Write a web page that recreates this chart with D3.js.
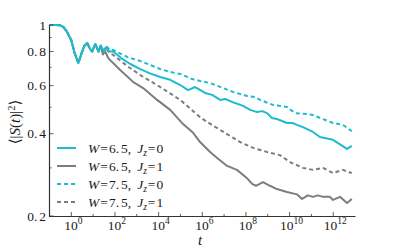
<!doctype html>
<html lang="en">
<head>
  <meta charset="utf-8">
  <script src="https://d3js.org/d3.v7.min.js"></script>
  <style>
    body { margin: 0; background: #fff; }
  </style>
</head>
<body>
  <div id="chart"></div>
  <script>
    // shared early part (log10 t, value) -- all four curves overlap here
    var earlyExp = [-1.0, -0.7, -0.5, -0.37, -0.2, 0, 0.15, 0.32, 0.45, 0.6, 0.73, 0.85, 0.95, 1.1, 1.25, 1.35];
    var earlyVal = [1.0, 1.0, 0.997, 0.985, 0.945, 0.88, 0.79, 0.726, 0.78, 0.84, 0.86, 0.82, 0.80, 0.85, 0.80, 0.84];

    // W=6.5, Jz=0
    var c65Exp = [1.5, 1.6, 1.75, 1.92, 2.3, 2.7, 3.16, 3.6, 4.07, 4.53, 4.99, 5.35, 5.67, 6.13, 6.45, 6.82, 7.05, 7.5, 7.87,
      8.19, 8.51, 8.74, 8.97, 9.19, 9.42, 9.88, 10.11, 10.25, 10.61, 11.07, 11.39, 11.99, 12.63, 12.85];
    var c65Val = [0.80, 0.83, 0.80, 0.80, 0.755, 0.72, 0.69, 0.665, 0.645, 0.63, 0.603, 0.578, 0.593, 0.564, 0.555, 0.532,
      0.536, 0.518, 0.506, 0.489, 0.480, 0.484, 0.476, 0.457, 0.453, 0.438, 0.438, 0.434, 0.423, 0.406, 0.389, 0.380, 0.352, 0.361];

    // W=6.5, Jz=1
    var g65Exp = [1.45, 1.55, 1.7, 2.24, 2.84, 3.29, 3.93, 4.53, 5.12, 5.58, 5.9, 6.36, 6.68, 7.14, 7.59, 8.05, 8.28, 8.46,
      8.78, 9.1, 9.42, 9.88, 10.34, 10.57, 10.84, 11.07, 11.3, 11.53, 11.85, 11.99, 12.31, 12.63, 12.85];
    var g65Val = [0.78, 0.80, 0.755, 0.684, 0.618, 0.588, 0.532, 0.489, 0.434, 0.403, 0.373, 0.343, 0.326, 0.305, 0.295,
      0.275, 0.262, 0.258, 0.266, 0.258, 0.251, 0.245, 0.240, 0.231, 0.238, 0.235, 0.238, 0.235, 0.235, 0.229, 0.235, 0.223, 0.231];

    // W=7.5, Jz=0
    var c75Exp = [1.5, 1.6, 1.75, 1.92, 2.56, 3.16, 3.61, 4.07, 4.53, 4.99, 5.54, 5.9, 6.36, 6.95, 7.41, 8.05, 8.42, 8.65,
      9.24, 9.88, 10.25, 10.8, 11.07, 11.39, 11.99, 12.44, 12.85];
    var c75Val = [0.81, 0.84, 0.81, 0.81, 0.764, 0.738, 0.714, 0.69, 0.673, 0.662, 0.634, 0.624, 0.613, 0.588, 0.569, 0.550,
      0.545, 0.532, 0.510, 0.501, 0.476, 0.472, 0.468, 0.457, 0.438, 0.431, 0.409];

    // W=7.5, Jz=1
    var g75Exp = [1.5, 1.6, 1.75, 1.92, 2.56, 3.16, 4.07, 4.99, 5.9, 6.22, 6.82, 7.73, 8.33, 8.97, 9.56, 10.02, 10.61, 11.07,
      11.53, 11.99, 12.44, 12.85];
    var g75Val = [0.80, 0.82, 0.79, 0.777, 0.708, 0.656, 0.593, 0.532, 0.460, 0.442, 0.413, 0.373, 0.355, 0.343, 0.334,
      0.315, 0.300, 0.295, 0.300, 0.287, 0.295, 0.287];

    var xMajorExp = [0, 2, 4, 6, 8, 10, 12];
    var xMinorExp = [1, 3, 5, 7, 9, 11];
    var yMajor = [0.2, 0.4, 0.6, 0.8, 1];
    var yMinor = [0.3, 0.5, 0.7, 0.9];

    var cyan = '#1dbccc', grey = '#7d7d7d';
    var series = [
      { w: '6.5', jz: '1', exp: g65Exp, val: g65Val, color: grey, dash: null },
      { w: '7.5', jz: '1', exp: g75Exp, val: g75Val, color: grey, dash: '4,3' },
      { w: '6.5', jz: '0', exp: c65Exp, val: c65Val, color: cyan, dash: null },
      { w: '7.5', jz: '0', exp: c75Exp, val: c75Val, color: cyan, dash: '4,3' }
    ];
    var legendOrder = [2, 0, 3, 1];

    var width = 395, height = 247;
    var svg = d3.select('#chart').append('svg')
      .attr('width', width)
      .attr('height', height)
      .style('font-family', "'Liberation Serif', 'DejaVu Serif', serif");

    var x = d3.scaleLog().domain([1e-1, Math.pow(10, 13.02)]).range([49.5, 355.5]);
    var y = d3.scaleLog().domain([0.2, 1]).range([216, 25]);

    var line = d3.line()
      .x(function (d) { return x(d[0]); })
      .y(function (d) { return y(d[1]); });

    series.forEach(function (s) {
      var pts = earlyExp.map(function (e, i) { return [Math.pow(10, e), earlyVal[i]]; })
        .concat(s.exp.map(function (e, i) { return [Math.pow(10, e), s.val[i]]; }));
      svg.append('path')
        .datum(pts)
        .attr('d', line)
        .attr('fill', 'none')
        .attr('stroke', s.color)
        .attr('stroke-width', 2)
        .attr('stroke-linejoin', 'round')
        .attr('stroke-dasharray', s.dash);
    });

    // axes, ticks pointing inward
    var axisColor = '#333', textColor = '#1a1a1a';
    svg.append('line').attr('x1', 49.5).attr('x2', 49.5).attr('y1', 25).attr('y2', 216.5)
      .attr('stroke', axisColor).attr('stroke-width', 1.2);
    svg.append('line').attr('x1', 49).attr('x2', 355.5).attr('y1', 216.5).attr('y2', 216.5)
      .attr('stroke', axisColor).attr('stroke-width', 1.2);

    xMajorExp.forEach(function (e) {
      var px = x(Math.pow(10, e));
      svg.append('line').attr('x1', px).attr('x2', px).attr('y1', 216).attr('y2', 212)
        .attr('stroke', axisColor).attr('stroke-width', 0.8);
      var t = svg.append('text').attr('x', px + 2).attr('y', 230).attr('text-anchor', 'middle')
        .attr('fill', textColor).style('font-size', '13.5px');
      t.append('tspan').text('10');
      t.append('tspan').attr('dy', -6).style('font-size', '9.5px').text(e);
    });
    xMinorExp.forEach(function (e) {
      var px = x(Math.pow(10, e));
      svg.append('line').attr('x1', px).attr('x2', px).attr('y1', 216).attr('y2', 214)
        .attr('stroke', axisColor).attr('stroke-width', 0.8);
    });

    yMajor.forEach(function (v) {
      var py = y(v);
      svg.append('line').attr('x1', 49.5).attr('x2', 53.5).attr('y1', py).attr('y2', py)
        .attr('stroke', axisColor).attr('stroke-width', 0.8);
      var t = svg.append('text').attr('x', 46).attr('y', py + 4.5).attr('text-anchor', 'end')
        .attr('fill', textColor).style('font-size', '13.5px');
      if (v === 1) {
        t.text('1');
      } else {
        var parts = String(v).split('.');
        t.append('tspan').text(parts[0] + '.');
        t.append('tspan').attr('dx', 2).text(parts[1]);
      }
    });
    yMinor.forEach(function (v) {
      var py = y(v);
      svg.append('line').attr('x1', 49.5).attr('x2', 51.5).attr('y1', py).attr('y2', py)
        .attr('stroke', axisColor).attr('stroke-width', 0.8);
    });

    // axis labels
    svg.append('text').attr('x', 200).attr('y', 245).attr('text-anchor', 'middle')
      .attr('fill', textColor).style('font-size', '15px').style('font-style', 'italic').text('t');

    var yl = svg.append('text')
      .attr('transform', 'translate(20,122) rotate(-90)')
      .attr('text-anchor', 'middle')
      .attr('fill', textColor)
      .style('font-size', '15px');
    yl.append('tspan').text('\u27E8|');
    yl.append('tspan').style('font-style', 'italic').text('S');
    yl.append('tspan').text('(');
    yl.append('tspan').style('font-style', 'italic').text('t');
    yl.append('tspan').text(')|');
    yl.append('tspan').attr('dy', -5).style('font-size', '10.5px').text('2');
    yl.append('tspan').attr('dy', 5).text('\u27E9');

    // legend
    var legendY = [148, 166, 184, 202];
    legendOrder.forEach(function (si, i) {
      var s = series[si];
      var ly = legendY[i];
      svg.append('line').attr('x1', 57).attr('x2', 76).attr('y1', ly).attr('y2', ly)
        .attr('stroke', s.color).attr('stroke-width', 2)
        .attr('stroke-dasharray', s.dash);
      var t = svg.append('text').attr('x', 88).attr('y', ly + 4.5)
        .attr('fill', textColor).style('font-size', '13.5px');
      t.append('tspan').style('font-style', 'italic').text('W');
      t.append('tspan').attr('dx', 1).text('=');
      t.append('tspan').attr('dx', 1).text(s.w.split('.')[0] + '.');
      t.append('tspan').attr('dx', 2).text(s.w.split('.')[1] + ',');
      t.append('tspan').attr('dx', 6).style('font-style', 'italic').text('J');
      t.append('tspan').attr('dy', 3).style('font-style', 'italic').style('font-size', '9.5px').text('z');
      t.append('tspan').attr('dy', -3).attr('dx', 1).text('=');
      t.append('tspan').attr('dx', 1).text(s.jz);
    });
  </script>
</body>
</html>
